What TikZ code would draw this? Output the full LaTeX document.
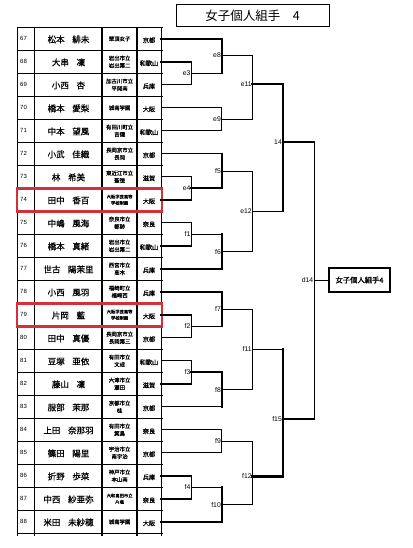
\documentclass[tikz,border=0pt]{standalone}
\usepackage{fontspec}
\setmainfont{Liberation Sans}
\newfontfamily\jp{Noto Sans CJK JP}
\newfontfamily\jpm[FakeBold=0.7]{Noto Sans CJK JP}
\newfontfamily\jpb[FakeBold=1.2]{Noto Sans CJK JP}
\newcommand\nmgap{\hspace{0.9em}}
\definecolor{hlred}{RGB}{212,48,58}
\begin{document}
\begin{tikzpicture}[x=1pt,y=-1pt,
  ln/.style={line width=0.8pt,line cap=rect},
  lk/.style={line width=2.2pt,line cap=rect},
  tbl/.style={line width=0.9pt},
  tblk/.style={line width=1.8pt},
  lbl/.style={font=\fontsize{6.8}{7}\selectfont,anchor=east,inner sep=0.7pt},
  numtxt/.style={font=\fontsize{6}{7}\selectfont,anchor=west,inner sep=0pt},
  cjk/.style={inner sep=0pt,text height=0.88em,text depth=0.12em},
  hlbox/.style={draw=hlred,line width=2.6pt}]
\fill[white] (0,0) rectangle (412,548);
\useasboundingbox (0,0) rectangle (412,548);

% title
\node[draw,line width=0.9pt,minimum width=153pt,minimum height=22.7pt,inner sep=0pt,
      font=\jp\fontsize{12.5}{14}\selectfont] (title) at (252.5,15.35) {女子個人組手　4};

% table lines
\foreach \i in {0,...,22}{
  \draw[tbl] (17,{27.3+23*\i}) -- (163,{27.3+23*\i});
}
\draw[tbl] (17,27.3) -- (17,535.5);
\draw[tbl] (34.7,27.3) -- (34.7,535.5);
\draw[tblk] (102.2,27.3) -- (102.2,535.5);
\draw[tblk] (137,27.3) -- (137,535.5);
\draw[tbl] (161,27.3) -- (161,535.5);

% rows
\foreach \n/\nm/\sc/\fs/\pf in {
67/{松本\nmgap 緋未}/{華頂女子}/5.4/京都,
68/{大串\nmgap 凜}/{岩出市立\\岩出第二}/5.4/和歌山,
69/{小西\nmgap 杏}/{加古川市立\\平岡南}/5.4/兵庫,
70/{橋本\nmgap 愛梨}/{城南学園}/5.4/大阪,
71/{中本\nmgap 望風}/{有田川町立\\吉備}/5.4/和歌山,
72/{小武\nmgap 佳織}/{長岡京市立\\長岡}/5.4/京都,
73/{林\nmgap 希美}/{東近江市立\\聖徳}/5.4/滋賀,
74/{田中\nmgap 香百}/{大阪学芸高等\\学校附属}/4.3/大阪,
75/{中嶋\nmgap 風海}/{奈良市立\\都跡}/5.4/奈良,
76/{橋本\nmgap 真緒}/{岩出市立\\岩出第二}/5.4/和歌山,
77/{世古\nmgap 陽茉里}/{西宮市立\\高木}/5.4/兵庫,
78/{小西\nmgap 風羽}/{福崎町立\\福崎西}/5.4/兵庫,
79/{片岡\nmgap 藍}/{大阪学芸高等\\学校附属}/4.3/大阪,
80/{田中\nmgap 真優}/{長岡京市立\\長岡第三}/5.4/京都,
81/{豆塚\nmgap 亜依}/{有田市立\\文成}/5.4/和歌山,
82/{藤山\nmgap 凜}/{大津市立\\瀬田}/5.4/滋賀,
83/{服部\nmgap 茉那}/{京都市立\\桂}/5.4/京都,
84/{上田\nmgap 奈那羽}/{有田市立\\箕島}/5.4/奈良,
85/{篠田\nmgap 陽里}/{宇治市立\\南宇治}/5.4/京都,
86/{折野\nmgap 歩菜}/{神戸市立\\本山南}/5.4/兵庫,
87/{中西\nmgap 紗亜弥}/{大和高田市立\\片塩}/4.3/奈良,
88/{米田\nmgap 未紗穂}/{城南学園}/5.4/大阪}{
  \pgfmathsetmacro\yc{38.8+23*(\n-67)}
  \pgfmathsetmacro\bs{\fs+2}
  \node[numtxt] (num\n) at (20,\yc) {\n};
  \node[cjk,font=\jpm\fontsize{8.5}{10}\selectfont] (name\n) at (68.5,\yc) {\nm};
  \node[inner sep=0pt,align=center,font=\jpm\fontsize{\fs}{\bs}\selectfont] (sch\n) at (119.6,\yc) {\sc};
  \node[cjk,font=\jpm\fontsize{6.2}{7}\selectfont] (pref\n) at (149,\yc) {\pf};
  \coordinate (r\n) at (161,\yc);
}

% highlighted rows
\draw[hlbox] (17,188.3) rectangle (161.8,211.3);
\draw[hlbox] (17,303.3) rectangle (161.8,326.3);

% junctions
\coordinate (e3) at (191.3,73.3);
\coordinate (e4) at (191.3,188.3);
\coordinate (f1) at (191.3,234.3);
\coordinate (f2) at (191.3,326.3);
\coordinate (f3) at (191.3,372.3);
\coordinate (f4) at (191.3,487.3);
\coordinate (e8) at (221.7,55.5);
\coordinate (e9) at (221.7,119.3);
\coordinate (f5) at (221.7,171);
\coordinate (f6) at (221.7,251.6);
\coordinate (f7) at (221.7,309);
\coordinate (f8) at (221.7,389.6);
\coordinate (f9) at (221.7,441.3);
\coordinate (f10) at (221.7,504.6);
\coordinate (e11) at (252.5,84);
\coordinate (e12) at (252.5,211.3);
\coordinate (f11) at (252.5,349.5);
\coordinate (f12) at (252.5,476.5);
\coordinate (t14) at (282.7,142);
\coordinate (f15) at (282.7,419);
\coordinate (d14) at (314,280);

% final box
\node[draw,line width=2pt,minimum width=61pt,minimum height=24pt,inner sep=0pt,
      font=\jpb\fontsize{7.3}{9}\selectfont] (final) at (359.5,280) {女子個人組手4};

% row lines
\draw[lk] (r67) -- (r67 -| e8);
\draw[lk] (r68) -- (r68 -| e3);
\draw[ln] (r69) -- (r69 -| e3);
\draw[ln] (r70) -- (r70 -| e9);
\draw[ln] (r71) -- (r71 -| e9);
\draw[ln] (r72) -- (r72 -| f5);
\draw[ln] (r73) -- (r73 -| e4);
\draw[lk] (r74) -- (r74 -| e4);
\draw[ln] (r75) -- (r75 -| f1);
\draw[lk] (r76) -- (r76 -| f1);
\draw[lk] (r77) -- (r77 -| f6);
\draw[lk] (r78) -- (r78 -| f7);
\draw[lk] (r79) -- (r79 -| f2);
\draw[ln] (r80) -- (r80 -| f2);
\draw[ln] (r81) -- (r81 -| f3);
\draw[lk] (r82) -- (r82 -| f3);
\draw[ln] (r83) -- (r83 -| f8);
\draw[ln] (r84) -- (r84 -| f9);
\draw[ln] (r85) -- (r85 -| f9);
\draw[lk] (r86) -- (r86 -| f4);
\draw[lk] (r87) -- (r87 -| f4);
\draw[lk] (r88) -- (r88 -| f10);

% verticals
\draw[ln] (r68 -| e3) -- (r69 -| e3);
\draw[ln] (r73 -| e4) -- (r74 -| e4);
\draw[ln] (r75 -| f1) -- (r76 -| f1);
\draw[ln] (r79 -| f2) -- (r80 -| f2);
\draw[ln] (r81 -| f3) -- (r82 -| f3);
\draw[ln] (r86 -| f4) -- (r87 -| f4);
\draw[lk] (r67 -| e8) -- (e3 -| e8);
\draw[ln] (r70 -| e9) -- (r71 -| e9);
\draw[lk] (r72 -| f5) -- (e4 -| f5);
\draw[lk] (f1 -| f6) -- (r77 -| f6);
\draw[lk] (r78 -| f7) -- (f2 -| f7);
\draw[lk] (f3 -| f8) -- (r83 -| f8);
\draw[ln] (r84 -| f9) -- (r85 -| f9);
\draw[lk] (f4 -| f10) -- (r88 -| f10);
\draw[ln] (e8 -| e11) -- (e9 -| e11);
\draw[ln] (f5 -| e12) -- (f6 -| e12);
\draw[ln] (f7 -| f11) -- (f8 -| f11);
\draw[ln] (f9 -| f12) -- (f10 -| f12);
\draw[lk] (e11 -| t14) -- (e12 -| t14);
\draw[lk] (f11 -| f15) -- (f12 -| f15);
\draw[ln] (t14 -| d14) -- (f15 -| d14);

% outgoing lines
\draw[ln] (e3) -- (e3 -| e8);
\draw[lk] (e4) -- (e4 -| f5);
\draw[ln] (f1) -- (f1 -| f6);
\draw[ln] (f2) -- (f2 -| f7);
\draw[lk] (f3) -- (f3 -| f8);
\draw[ln] (f4) -- (f4 -| f10);
\draw[ln] (e8) -- (e8 -| e11);
\draw[ln] (e9) -- (e9 -| e11);
\draw[ln] (f5) -- (f5 -| e12);
\draw[ln] (f6) -- (f6 -| e12);
\draw[ln] (f7) -- (f7 -| f11);
\draw[ln] (f8) -- (f8 -| f11);
\draw[ln] (f9) -- (f9 -| f12);
\draw[ln] (f10) -- (f10 -| f12);
\draw[lk] (e11) -- (e11 -| t14);
\draw[ln] (e12) -- (e12 -| t14);
\draw[ln] (f11) -- (f11 -| f15);
\draw[lk] (f12) -- (f12 -| f15);
\draw[lk] (t14) -- (t14 -| d14);
\draw[lk] (f15) -- (f15 -| d14);
\draw[ln] (d14) -- (final.west);

% labels
\foreach \c/\t in {e3/e3,e4/e4,f1/f1,f2/f2,f3/f3,f4/f4,e8/e8,e9/e9,f5/f5,f6/f6,f7/f7,f8/f8,f9/f9,f10/f10,e11/e11,e12/e12,f11/f11,f12/f12,t14/14,f15/f15,d14/d14}{
  \node[lbl] (l\c) at (\c) {\t};
}
\end{tikzpicture}
\end{document}
